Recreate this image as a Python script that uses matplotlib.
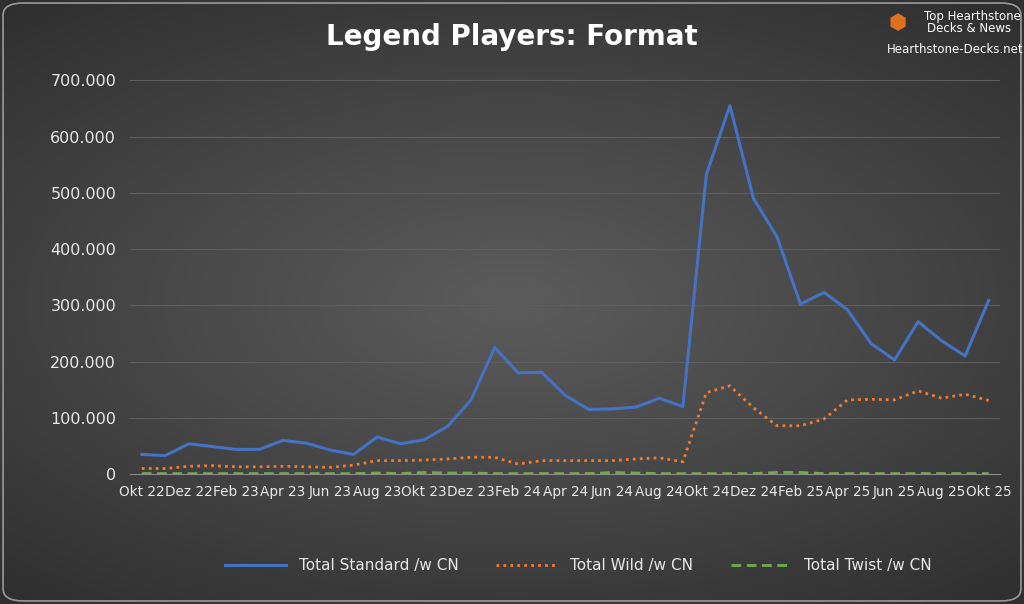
import numpy as np
import matplotlib.pyplot as plt
from matplotlib.ticker import FuncFormatter, MultipleLocator
from matplotlib.patches import FancyBboxPatch
from matplotlib.colors import LinearSegmentedColormap

months = ["Okt 22","Nov 22","Dez 22","Jan 23","Feb 23","Mär 23","Apr 23","Mai 23","Jun 23","Jul 23","Aug 23","Sep 23",
          "Okt 23","Nov 23","Dez 23","Jan 24","Feb 24","Mär 24","Apr 24","Mai 24","Jun 24","Jul 24","Aug 24","Sep 24",
          "Okt 24","Nov 24","Dez 24","Jan 25","Feb 25","Mär 25","Apr 25","Mai 25","Jun 25","Jul 25","Aug 25","Sep 25","Okt 25"]
standard = [35,33,54,49,44,44,60,55,43,35,66,54,61,85,132,225,180,181,140,115,116,119,135,120,
            533,655,490,422,302,323,292,232,203,271,237,210,309]
wild = [10,10,14,15,13,13,14,13,12,16,24,24,25,27,30,30,18,24,24,24,24,27,29,22,
        145,157,118,86,86,98,132,133,132,148,135,142,131]
twist = [1,1,1,1,1,1,1,1,1,1,2,1,3,2,2,1,1,1,1,1,3,2,1,1,
         1,1,1,3,3,1,1,1,1,1,1,1,1]

fig = plt.figure(figsize=(10.24, 6.04), dpi=100)
fig.patch.set_facecolor("white")
bg = fig.add_axes([0, 0, 1, 1], zorder=-5)
yy, xx = np.mgrid[-1:1:300j, -1:1:500j]
r = np.sqrt((xx * 0.85) ** 2 + (yy * 1.0) ** 2)
cmap = LinearSegmentedColormap.from_list("bg", ["#5c5c5c", "#2f2f2f"])
bg.imshow(np.clip(r / 1.3, 0, 1), cmap=cmap, vmin=0, vmax=1, aspect="auto",
          extent=[0, 1, 0, 1], origin="lower")
bg.set_xlim(0, 1); bg.set_ylim(0, 1); bg.axis("off")
bg.add_patch(FancyBboxPatch((0.003, 0.005), 0.994, 0.99, boxstyle="round,pad=0,rounding_size=0.02",
                            fill=False, ec="#9a9a9a", lw=1.2, transform=bg.transAxes))

ax = fig.add_axes([0.127, 0.215, 0.85, 0.652])
ax.set_facecolor("none")
x = np.arange(len(months))
k = 1000
ax.plot(x, np.array(standard) * k, color="#4472C4", lw=2.2, label="Total Standard /w CN")
ax.plot(x, np.array(wild) * k, color="#ED7D31", lw=2, ls=(0, (1, 1.5)), label="Total Wild /w CN")
ax.plot(x, np.array(twist) * k, color="#70AD47", lw=2, ls=(0, (3.5, 2)), label="Total Twist /w CN")

ax.set_ylim(0, 700000)
ax.set_xlim(-0.5, len(months) - 0.5)
ax.yaxis.set_major_locator(MultipleLocator(100000))
ax.yaxis.set_major_formatter(FuncFormatter(lambda v, p: f"{int(v):,}".replace(",", ".")))
ax.set_xticks(x[::2])
ax.set_xticklabels(months[::2])
ax.grid(axis="y", color="#5e5e5e", lw=0.8)
ax.set_axisbelow(True)
for s in ["top", "right", "left"]:
    ax.spines[s].set_visible(False)
ax.spines["bottom"].set_color("#8a8a8a")
ax.tick_params(axis="y", length=0, colors="#e8e8e8", labelsize=11.5, pad=10)
ax.tick_params(axis="x", length=0, colors="#e8e8e8", labelsize=9.8, pad=8)

fig.text(0.5, 0.938, "Legend Players: Format", ha="center", va="center", color="white",
         fontsize=20, fontweight="bold")
fig.legend(loc="center", bbox_to_anchor=(0.565, 0.063), ncol=3, frameon=False,
           labelcolor="#e8e8e8", fontsize=11, handlelength=4, columnspacing=2.5)
fig.text(0.902, 0.972, "Top Hearthstone", color="white", fontsize=8.5, va="center")
fig.text(0.905, 0.952, "Decks & News", color="white", fontsize=8.5, va="center")
fig.text(0.866, 0.918, "Hearthstone-Decks.net", color="white", fontsize=8.5, va="center")
fig.text(0.868, 0.962, "⬢", color="#E07020", fontsize=15, va="center")
fig.savefig("out.png", dpi=100)
